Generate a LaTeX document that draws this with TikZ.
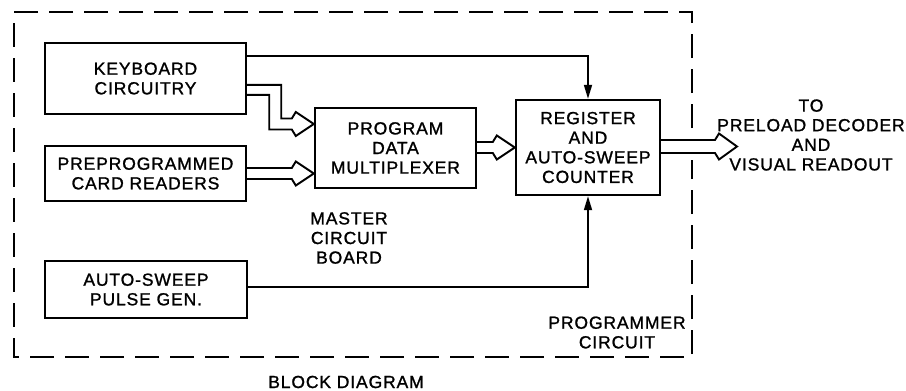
\documentclass[tikz,border=0pt]{standalone}
\usepackage{fontspec}
\setmainfont{Liberation Sans}[LetterSpace=5,FakeBold=1.2]
\usetikzlibrary{arrows.meta,calc}
\begin{document}
\begin{tikzpicture}[x=1pt,y=-1pt,
  txt/.style={font=\fontsize{17.5}{19.6}\selectfont, align=center, inner sep=0pt},
  blk/.style={txt, draw, line width=2.4pt},
  thinarrow/.style={line width=1.7pt, -{Triangle[length=14pt,width=8pt]}},
  fat/.style={line width=1.9pt, line join=miter},
  border/.style={line width=2pt, dash pattern=on 24pt off 11pt}]
\useasboundingbox (0,0) rectangle (906,391);
% dashed border
\draw[border] (692,128) -- (692,12) -- (14,12) -- (14,357) -- (692,357) -- (692,160);
% blocks
\node[blk,minimum width=201pt,minimum height=71pt] (kb) at (145.5,78.5) {KEYBOARD\\CIRCUITRY};
\node[blk,minimum width=201pt,minimum height=55pt] (pp) at (145.5,173.5) {PREPROGRAMMED\\CARD READERS};
\node[blk,minimum width=202pt,minimum height=57pt] (as) at (146,289.5) {AUTO-SWEEP\\PULSE GEN.};
\node[blk,minimum width=161pt,minimum height=80pt] (mux) at (395.5,148) {PROGRAM\\DATA\\MULTIPLEXER};
\node[blk,minimum width=144pt,minimum height=95pt] (reg) at (588,147.5) {REGISTER\\AND\\AUTO-SWEEP\\COUNTER};
% labels
\node[txt] (master) at (349,238) {MASTER\\CIRCUIT\\BOARD};
\node[txt] (prog) at (617,332.5) {PROGRAMMER\\CIRCUIT};
\node[txt] (title) at (346,382) {BLOCK DIAGRAM};
\node[txt] (dest) at (811,135) {TO\\PRELOAD DECODER\\AND\\VISUAL READOUT};
% thin connectors
\draw[thinarrow] ([yshift=-14pt]kb.north east) -| (reg.north);
\draw[thinarrow] ([yshift=2.5pt]as.east) -| (reg.south);
% fat (bus) connectors
\coordinate (t1) at ([yshift=24pt]mux.west);
\coordinate (u1) at ([yshift=-43pt]kb.north east);
\coordinate (l1) at ([yshift=-53pt]kb.north east);
\draw[fat] (u1) -- ++(34,0) |- ($(t1)+(-22,-5.5)$) -- ($(t1)+(-18,-12)$) -- (t1)
  -- ($(t1)+(-18,12)$) -- ($(t1)+(-22,5.5)$) -| ($(l1)+(22,0)$) -- (l1);
\coordinate (t2) at (mux.west |- pp.east);
\draw[fat] ($(pp.east)+(0,-5.5)$) -- ($(t2)+(-22,-5.5)$) -- ($(t2)+(-18,-12)$) -- (t2)
  -- ($(t2)+(-18,12)$) -- ($(t2)+(-22,5.5)$) -- ($(pp.east)+(0,5.5)$);
\coordinate (t3) at (reg.west);
\draw[fat] ($(mux.east |- t3)+(0,-5.5)$) -- ($(t3)+(-22,-5.5)$) -- ($(t3)+(-18,-12)$) -- (t3)
  -- ($(t3)+(-18,12)$) -- ($(t3)+(-22,5.5)$) -- ($(mux.east |- t3)+(0,5.5)$);
\coordinate (t4) at (737,146.5);
\draw[fat] ($(reg.east |- t4)+(0,-6.5)$) -- ($(t4)+(-22,-6.5)$) -- ($(t4)+(-18,-13)$) -- (t4)
  -- ($(t4)+(-18,13)$) -- ($(t4)+(-22,6.5)$) -- ($(reg.east |- t4)+(0,6.5)$);
\end{tikzpicture}
\end{document}
